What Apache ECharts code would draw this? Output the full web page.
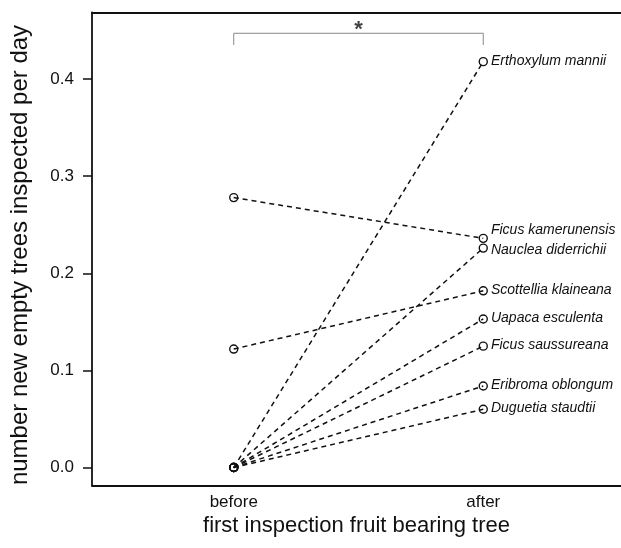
<!DOCTYPE html>
<html>
<head>
<meta charset="utf-8">
<script src="https://cdn.jsdelivr.net/npm/echarts@6/dist/echarts.min.js"></script>
<style>
  html, body { margin: 0; padding: 0; background: #fff; }
  #chart { width: 621px; height: 548px; }
</style>
</head>
<body>
<div id="chart"></div>
<script>
const periods = ['before', 'after']
const species = ['Erthoxylum mannii', 'Ficus kamerunensis', 'Nauclea diderrichii', 'Scottellia klaineana',
  'Uapaca esculenta', 'Ficus saussureana', 'Eribroma oblongum', 'Duguetia staudtii']
const before = [0, 0.278, 0, 0.122, 0, 0, 0, 0]
const after = [0.418, 0.236, 0.226, 0.182, 0.153, 0.125, 0.084, 0.060]
const yTicks = [0, 0.1, 0.2, 0.3, 0.4]
// significance bracket between the two periods
const bracketTop = 0.4472
const bracketFoot = 0.4351
const starLabel = '*'

const font = 'Liberation Sans, Arial, Helvetica, sans-serif'
// nudge a couple of labels so they don't sit on each other
const labelShift = { 'Ficus kamerunensis': -7, 'Nauclea diderrichii': 3 }

const chart = echarts.init(document.getElementById('chart'))

const lineSeries = species.map((name, i) => ({
  type: 'line',
  name: name,
  data: [[1, before[i]], [2, after[i]]],
  symbol: 'circle',
  symbolSize: 8,
  z: 3,
  lineStyle: { color: '#111', width: 1.5, type: [5, 4] },
  itemStyle: { color: 'rgba(0,0,0,0)', borderColor: '#111', borderWidth: 1.4 },
  label: {
    show: true,
    position: 'right',
    distance: 3,
    offset: [0, (labelShift[name] || 0) - 1],
    fontFamily: font,
    fontStyle: 'italic',
    fontSize: 14,
    color: '#111',
    formatter: p => (p.dataIndex === 1 ? name : '')
  },
  emphasis: { disabled: true },
  silent: true
}))

const axisLine = { show: true, onZero: false, lineStyle: { color: '#111', width: 1.8 } }

chart.setOption({
  animation: false,
  grid: {
    left: 91,
    top: 12.5,
    bottom: 62.5,
    right: 0
  },
  xAxis: [{
    type: 'value',
    min: 0.432,
    max: 2.552,
    axisLine: axisLine,
    axisTick: { show: false },
    splitLine: { show: false },
    axisLabel: {
      customValues: [1, 2],
      formatter: v => periods[Math.round(v) - 1],
      fontFamily: font,
      fontSize: 17,
      color: '#111',
      margin: 8
    },
    name: 'first inspection fruit bearing tree',
    nameLocation: 'middle',
    nameGap: 19,
    nameTextStyle: { fontFamily: font, fontSize: 22, color: '#111' }
  }, {
    type: 'value',
    position: 'top',
    min: 0.432,
    max: 2.552,
    axisLine: axisLine,
    axisTick: { show: false },
    axisLabel: { show: false },
    splitLine: { show: false }
  }],
  yAxis: {
    type: 'value',
    min: -0.0185,
    max: 0.4686,
    axisLine: axisLine,
    axisTick: {
      show: true,
      customValues: yTicks,
      length: 9,
      lineStyle: { color: '#111', width: 1.5 }
    },
    splitLine: { show: false },
    axisLabel: {
      customValues: yTicks,
      formatter: v => v.toFixed(1),
      fontFamily: font,
      fontSize: 17,
      color: '#111',
      margin: 18
    },
    name: 'number new empty trees inspected per day',
    nameLocation: 'middle',
    nameGap: 60,
    nameTextStyle: { fontFamily: font, fontSize: 24, color: '#111', padding: [0, 12, 0, 0] }
  },
  series: [
    ...lineSeries,
    {
      type: 'line',
      data: [[1, bracketFoot], [1, bracketTop], [2, bracketTop], [2, bracketFoot]],
      symbol: 'none',
      lineStyle: { color: '#888', width: 1 },
      silent: true
    },
    {
      type: 'scatter',
      data: [[1.5, bracketTop]],
      symbolSize: 0,
      silent: true,
      label: {
        show: true,
        position: 'top',
        distance: -8,
        formatter: starLabel,
        fontFamily: font,
        fontSize: 22,
        fontWeight: 'bold',
        color: '#111'
      }
    }
  ]
})
</script>
</body>
</html>
